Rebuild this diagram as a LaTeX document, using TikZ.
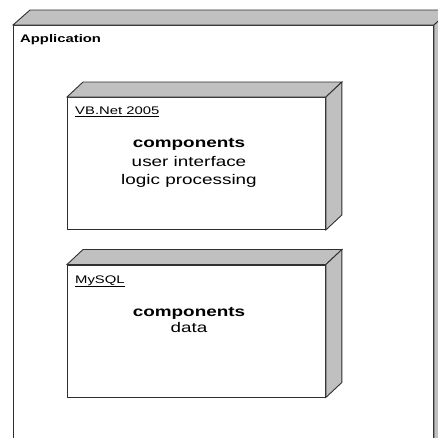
\documentclass[tikz,border=0pt]{standalone}
\usepackage{fontspec}
\setmainfont{Liberation Sans}[FakeStretch=1.35]
\definecolor{sideface}{HTML}{C0C0C0}
\definecolor{edge}{HTML}{303030}
\tikzset{
  front/.style={draw=edge, line width=0.9pt, fill=white, rectangle, inner sep=0pt, anchor=north west},
  face/.style={draw=edge, line width=0.9pt, fill=sideface, line join=miter},
  title/.style={anchor=base west, inner sep=0pt, font=\fontsize{11}{13}\selectfont},
  body/.style={anchor=base, inner sep=0pt, font=\fontsize{14}{16}\selectfont},
}
\begin{document}
\begin{tikzpicture}[x=1pt,y=-1pt]
\useasboundingbox (0,0) rectangle (438,437);
\begin{scope}
\clip (0,0) rectangle (438,437);
% outer node
\node[front, minimum width=420pt, minimum height=450pt] (app) at (13,25) {};
\draw[face] (app.north west) -- ++(17,-15) -- ([shift={(17,-15)}]app.north east) -- (app.north east) -- cycle;
\draw[face] (app.north east) -- ++(17,-15) -- ([shift={(17,-15)}]app.south east) -- (app.south east) -- cycle;
\end{scope}
\node[title, font=\bfseries\fontsize{11}{13}\selectfont] (apptitle) at (20,42.5) {Application};
% VB.Net box
\node[front, minimum width=258pt, minimum height=132pt] (vb) at (67,97) {};
\draw[face] (vb.north west) -- ++(16,-15) -- ([shift={(16,-15)}]vb.north east) -- (vb.north east) -- cycle;
\draw[face] (vb.north east) -- ++(16,-15) -- ([shift={(16,-15)}]vb.south east) -- (vb.south east) -- cycle;
\node[title] (vbtitle) at (75,114.5) {\underline{VB.Net 2005}};
\node[body, font=\bfseries\fontsize{14}{16}\selectfont] (vbc) at (189,147) {components};
\node[body] (vbui) at (189,166) {user interface};
\node[body] (vblp) at (189,184) {logic processing};
% MySQL box
\node[front, minimum width=258pt, minimum height=132pt] (db) at (67,264.5) {};
\draw[face] (db.north west) -- ++(16,-15) -- ([shift={(16,-15)}]db.north east) -- (db.north east) -- cycle;
\draw[face] (db.north east) -- ++(16,-15) -- ([shift={(16,-15)}]db.south east) -- (db.south east) -- cycle;
\node[title] (dbtitle) at (75,283) {\underline{MySQL}};
\node[body, font=\bfseries\fontsize{14}{16}\selectfont] (dbc) at (189,316.5) {components};
\node[body] (dbd) at (189,332.5) {data};
\end{tikzpicture}
\end{document}
